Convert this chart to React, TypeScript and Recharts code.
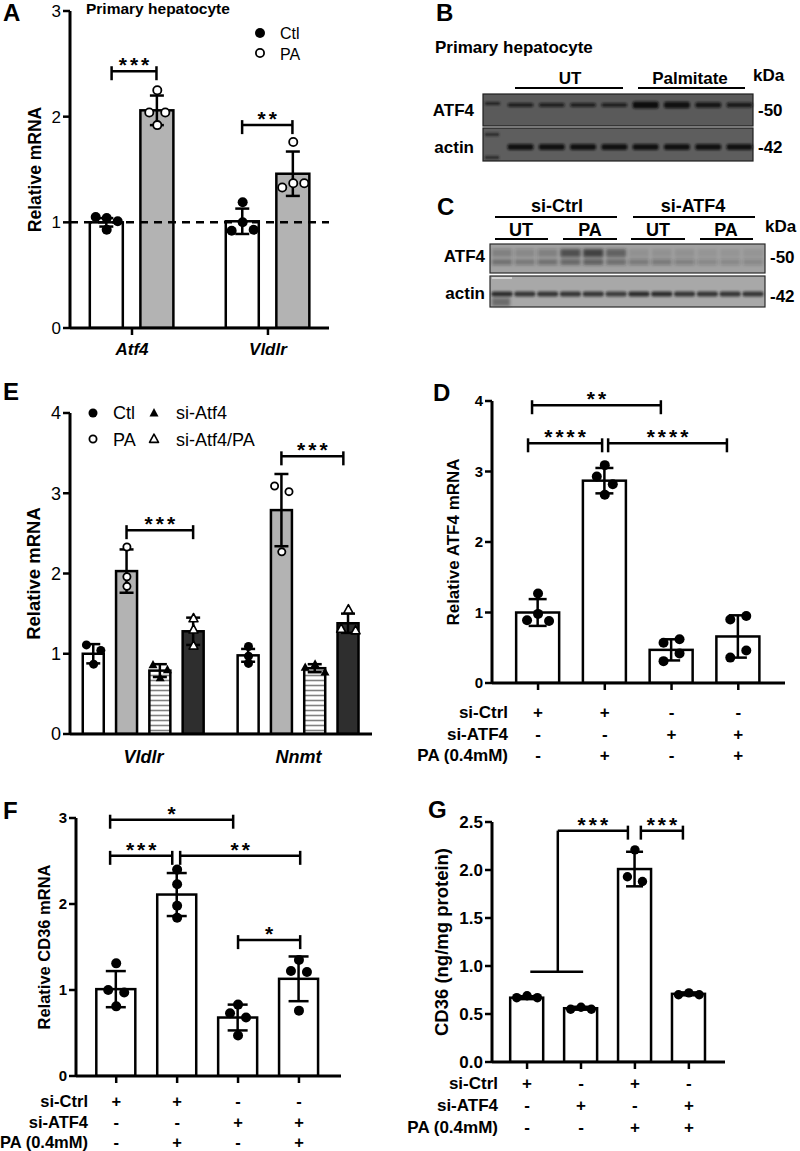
import React from 'react';
import { ComposedChart, Bar, Scatter, XAxis, YAxis, ErrorBar, ReferenceLine } from 'recharts';

const FONT = '"Liberation Sans", Arial, Helvetica, sans-serif';

// ---------------- Panel A ----------------
const A_GENES = ['Atf4', 'Vldlr'];
const A_CTL_MEAN = [1.0, 1.01];
const A_CTL_SD = [0.04, 0.12];
const A_CTL_PTS = [[1.04, 1.05, 1.01, 0.93], [1.19, 1.0, 0.92, 0.93]];
const A_PA_MEAN = [2.06, 1.46];
const A_PA_SD = [0.14, 0.21];
const A_PA_PTS = [[2.25, 2.04, 2.04, 1.92], [1.76, 1.37, 1.33, 1.37]];
const A_Y_TICKS = [0, 1, 2, 3];
const A_SIG = [
  { x1: -0.15, x2: 0.18, y: 2.43, label: '***' },
  { x1: 0.81, x2: 1.18, y: 1.92, label: '**' },
];

// ---------------- Panel E ----------------
const E_GENES = ['Vldlr', 'Nnmt'];
const E_CTL_MEAN = [1.0, 0.98];
const E_CTL_SD = [0.12, 0.08];
const E_CTL_PTS = [[1.11, 1.04, 0.87], [1.09, 0.97, 0.88]];
const E_PA_MEAN = [2.03, 2.79];
const E_PA_SD = [0.27, 0.45];
const E_PA_PTS = [[2.33, 1.96, 1.84], [3.09, 3.02, 2.27]];
const E_SI_MEAN = [0.79, 0.82];
const E_SI_SD = [0.08, 0.05];
const E_SI_PTS = [[0.86, 0.8, 0.7], [0.87, 0.83, 0.77]];
const E_SIPA_MEAN = [1.28, 1.38];
const E_SIPA_SD = [0.17, 0.12];
const E_SIPA_PTS = [[1.44, 1.3, 1.1], [1.55, 1.31, 1.29]];
const E_Y_TICKS = [0, 1, 2, 3, 4];
const E_SIG = [
  { x1: -0.11, x2: 0.32, y: 2.54, label: '***' },
  { x1: 0.89, x2: 1.29, y: 3.46, label: '***' },
];

// ---------------- Panel D ----------------
const D_MEAN = [1.0, 2.87, 0.47, 0.66];
const D_SD = [0.19, 0.18, 0.15, 0.3];
const D_PTS = [[1.27, 0.98, 0.89, 0.88], [3.09, 2.93, 2.82, 2.67], [0.57, 0.62, 0.31, 0.42], [0.9, 0.95, 0.36, 0.46]];
const D_Y_TICKS = [0, 1, 2, 3, 4];
const D_SIG = [
  { x1: -0.09, x2: 1.84, y: 3.94, label: '**' },
  { x1: -0.15, x2: 0.96, y: 3.4, label: '****' },
  { x1: 1.05, x2: 2.83, y: 3.4, label: '****' },
];
const D_ROWS = [
  { label: 'si-Ctrl', signs: ['+', '+', '-', '-'] },
  { label: 'si-ATF4', signs: ['-', '-', '+', '+'] },
  { label: 'PA (0.4mM)', signs: ['-', '+', '-', '+'] },
];

// ---------------- Panel F ----------------
const F_MEAN = [1.01, 2.11, 0.68, 1.13];
const F_SD = [0.21, 0.25, 0.15, 0.26];
const F_PTS = [[1.31, 1.0, 0.97, 0.81], [2.4, 2.23, 1.98, 1.84], [0.83, 0.73, 0.68, 0.47], [1.35, 1.22, 1.21, 0.76]];
const F_Y_TICKS = [0, 1, 2, 3];
const F_SIG = [
  { x1: -0.1, x2: 1.92, y: 2.98, label: '*' },
  { x1: -0.1, x2: 0.92, y: 2.56, label: '***' },
  { x1: 1.05, x2: 3.02, y: 2.56, label: '**' },
  { x1: 2.0, x2: 3.02, y: 1.58, label: '*' },
];
const F_ROWS = [
  { label: 'si-Ctrl', signs: ['+', '+', '-', '-'] },
  { label: 'si-ATF4', signs: ['-', '-', '+', '+'] },
  { label: 'PA (0.4mM)', signs: ['-', '+', '-', '+'] },
];

// ---------------- Panel G ----------------
const G_MEAN = [0.67, 0.56, 2.01, 0.71];
const G_SD = [0.015, 0.015, 0.18, 0.015];
const G_PTS = [[0.69, 0.67, 0.67], [0.57, 0.55, 0.55], [2.21, 1.93, 1.88], [0.72, 0.7, 0.7]];
const G_Y_TICKS = [0, 0.5, 1, 1.5, 2, 2.5];
const G_SIG = [
  { x1: 0.06, x2: 1.04, y: 0.94, ticks: 'none' },
  { x1: 0.57, x2: 0.57, y: 0.94, y2: 2.41, ticks: 'none' },
  { x1: 0.57, x2: 1.87, y: 2.41, label: '***', ticks: 'right' },
  { x1: 2.11, x2: 2.89, y: 2.41, label: '***' },
];
const G_ROWS = [
  { label: 'si-Ctrl', signs: ['+', '-', '+', '-'] },
  { label: 'si-ATF4', signs: ['-', '+', '-', '+'] },
  { label: 'PA (0.4mM)', signs: ['-', '-', '+', '+'] },
];

// ---------------- Blots (relative band intensities per lane) ----------------
const B_ATF4 = [0.8, 0.8, 0.8, 0.8, 1, 0.95, 0.9, 0.85];
const B_ACTIN = [0.95, 0.95, 0.95, 0.95, 0.95, 0.95, 0.95, 0.95];
const C_ATF4_UPPER = [0.25, 0.2, 0.25, 0.65, 0.75, 0.5, 0.1, 0.1, 0.1, 0.08, 0.08, 0.08];
const C_ATF4_LOWER = [0.35, 0.3, 0.35, 0.45, 0.5, 0.4, 0.3, 0.3, 0.25, 0.2, 0.2, 0.2];
const C_ACTIN = [0.85, 0.8, 0.8, 0.8, 0.8, 0.75, 0.85, 0.85, 0.8, 0.8, 0.8, 0.8];

type MarkerKind = 'dot' | 'ring' | 'tri' | 'otri';

function MarkerShape({ cx, cy, kind, r }: { cx: number; cy: number; kind: MarkerKind; r: number }) {
  if (cx == null || cy == null) return <g />;
  if (kind === 'dot') return <circle cx={cx} cy={cy} r={r} fill="#000" />;
  if (kind === 'ring') return <circle cx={cx} cy={cy} r={r - 0.9} fill="#fff" stroke="#000" strokeWidth={1.8} />;
  const pts = `${cx},${cy - r * 1.1} ${cx - r},${cy + r * 0.75} ${cx + r},${cy + r * 0.75}`;
  if (kind === 'tri') return <polygon points={pts} fill="#000" />;
  return <polygon points={pts} fill="#fff" stroke="#000" strokeWidth={1.6} strokeLinejoin="round" />;
}

function dodge(vals: number[], pxY: number, pxX: number, d: number): number[] {
  const idx = vals.map((_, i) => i).sort((a, b) => vals[b] - vals[a]);
  const clusters: number[][] = [];
  let cur: number[] = [];
  idx.forEach((i, k) => {
    if (k > 0 && (vals[idx[k - 1]] - vals[i]) * pxY >= d * 0.8) {
      clusters.push(cur);
      cur = [];
    }
    cur.push(i);
  });
  if (cur.length) clusters.push(cur);
  const off = vals.map(() => 0);
  const PAT: Record<number, number[]> = { 1: [0], 2: [-0.8, 0.8], 3: [0, -1.1, 1.1], 4: [-1.4, -0.47, 0.47, 1.4] };
  clusters.forEach((cl) => {
    const members = [...cl].sort((a, b) => a - b);
    const pat = PAT[members.length] || members.map((_, j) => j - (members.length - 1) / 2);
    members.forEach((m, j) => {
      off[m] = (pat[j] * d) / pxX;
    });
  });
  return off;
}

interface SeriesIn { mean: number[]; sd: number[]; pts: number[][]; fill: string; marker: MarkerKind }

function build(series: SeriesIn[], spacing: number, pxX: number, pxY: number, d: number) {
  const bars: { x: number; mean: number; sd: number; fill: string }[] = [];
  const pts = series.map((s) => ({ marker: s.marker, data: [] as { x: number; y: number }[] }));
  const n = series[0].mean.length;
  for (let g = 0; g < n; g++) {
    series.forEach((s, si) => {
      const x = g + (si - (series.length - 1) / 2) * spacing;
      bars.push({ x, mean: s.mean[g], sd: s.sd[g], fill: s.fill });
      const off = dodge(s.pts[g], pxY, pxX, d);
      s.pts[g].forEach((v, k) => pts[si].data.push({ x: x + off[k], y: v }));
    });
  }
  return { bars, pts };
}

function BracketShape(p: any) {
  const { x1, y1, x2, y2, sig } = p;
  const t = sig.ticks || 'both';
  const ls = 3;
  const st = { stroke: '#000', strokeWidth: 2.5 };
  return (
    <g>
      <line x1={x1} y1={y1} x2={x2} y2={y2} {...st} />
      {t === 'both' && <line x1={x1} y1={y1 - 5} x2={x1} y2={y1 + 9} {...st} />}
      {(t === 'both' || t === 'right') && <line x1={x2} y1={y2 - 5} x2={x2} y2={y2 + 9} {...st} />}
      {sig.label && (
        <text x={(x1 + x2) / 2 + ls / 2} y={y1 + 1} textAnchor="middle" fontSize={21} fontWeight={700}
          fontFamily={FONT} letterSpacing={ls} fill="#000">{sig.label}</text>
      )}
    </g>
  );
}

interface PanelCfg {
  lay: { left: number; top: number; right: number; bottom: number; yw: number; mt: number; mr: number; xh: number };
  xDomain: [number, number];
  yMax: number;
  yTicks: number[];
  yFmt?: (v: number) => string;
  yTickFont: number;
  yTickBold: boolean;
  yLabel: string;
  yLabelSize: number;
  yLabelOff: number;
  series: SeriesIn[];
  spacing: number;
  barSize: number;
  cap: number;
  r: number;
  sigs: any[];
  xTicks: number[];
  xFmt: (v: number) => string;
  xTickLine: boolean;
  xTickSize: number;
  xTickMargin: number;
  xFont: number;
  xItalic: boolean;
  rows?: { label: string; signs: string[] }[];
  rowStart?: number;
  rowH?: number;
  rowLabelDx?: number;
  rowFont?: number;
  refY?: number;
  defs?: React.ReactNode;
}

function Panel({ c }: { c: PanelCfg }) {
  const L = c.lay;
  const pw = L.right - L.left;
  const ph = L.bottom - L.top;
  const pxX = pw / (c.xDomain[1] - c.xDomain[0]);
  const pxY = ph / c.yMax;
  const { bars, pts } = build(c.series, c.spacing, pxX, pxY, c.r * 2);
  const rows = c.rows || [];
  const rowH = c.rowH || 0;
  const rowFont = c.rowFont || 17;
  const rowStart = c.rowStart || 0;
  const W = pw + L.yw + L.mr;
  const H = L.mt + ph + L.xh;
  const base = { fill: '#000', fontFamily: FONT };
  const ylx = L.yw - c.yLabelOff;
  const yly = L.mt + ph / 2;
  const axisY = L.mt + ph;
  const rowTick = (p: any) => (
    <g>
      {rows.map((r, i) => (
        <text key={i} x={p.x} y={axisY + rowStart + i * rowH} textAnchor="middle" fontSize={rowFont}
          fontWeight={700} fontFamily={FONT} fill="#000">{r.signs[Math.round(p.payload.value)] ?? ''}</text>
      ))}
    </g>
  );
  const barShape = (p: any) => {
    const cx = p.x + p.width / 2;
    const fill = (p.payload && p.payload.fill) || '#fff';
    return <rect x={cx - c.barSize / 2} y={p.y} width={c.barSize} height={Math.max(0, p.height)} fill={fill} stroke="#000" strokeWidth={2.5} />;
  };
  return (
    <div style={{ position: 'absolute', left: L.left - L.yw, top: L.top - L.mt, width: W, height: H }}>
      <ComposedChart width={W} height={H} data={bars} margin={{ top: L.mt, right: L.mr, left: 0, bottom: 0 }}>
        {c.defs}
        <XAxis dataKey="x" type="number" domain={c.xDomain} allowDataOverflow ticks={c.xTicks} interval={0}
          height={L.xh} tickFormatter={c.xFmt}
          axisLine={{ stroke: '#000', strokeWidth: 3 }}
          tickLine={c.xTickLine ? { stroke: '#000', strokeWidth: 2.5 } : false}
          tickSize={c.xTickSize} tickMargin={c.xTickMargin}
          tick={rows.length ? rowTick : { ...base, fontSize: c.xFont, fontWeight: 700, fontStyle: c.xItalic ? 'italic' : 'normal' }} />
        <YAxis type="number" domain={[0, c.yMax]} allowDataOverflow ticks={c.yTicks} interval={0} width={L.yw}
          tickFormatter={c.yFmt}
          axisLine={{ stroke: '#000', strokeWidth: 3 }} tickLine={{ stroke: '#000', strokeWidth: 2.5 }}
          tickSize={7} tickMargin={2}
          tick={{ ...base, fontSize: c.yTickFont, fontWeight: c.yTickBold ? 700 : 400 }} />
        <Bar dataKey="mean" barSize={c.barSize} isAnimationActive={false} shape={barShape}>
          <ErrorBar dataKey="sd" width={c.cap} stroke="#000" strokeWidth={2.5} direction="y" />
        </Bar>
        {c.refY !== undefined && (
          <ReferenceLine y={c.refY} stroke="#000" strokeWidth={2.5} strokeDasharray="8 6" />
        )}
        {pts.map((s, i) => (
          <Scatter key={'sc' + i} data={s.data} dataKey="y" isAnimationActive={false}
            shape={(p: any) => <MarkerShape cx={p.cx} cy={p.cy} kind={s.marker} r={c.r} />} />
        ))}
        {c.sigs.map((s, i) => (
          <ReferenceLine key={'sig' + i} ifOverflow="visible"
            segment={[{ x: s.x1, y: s.y }, { x: s.x2, y: s.y2 ?? s.y }]}
            shape={(p: any) => <BracketShape {...p} sig={s} />} />
        ))}
        <text x={ylx} y={yly} transform={`rotate(-90 ${ylx} ${yly})`} textAnchor="middle" dominantBaseline="central"
          fontSize={c.yLabelSize} fontWeight={700} fontFamily={FONT} fill="#000">{c.yLabel}</text>
        {rows.map((r, i) => (
          <text key={'rl' + i} x={L.yw + (c.rowLabelDx || 0)} y={axisY + rowStart + i * rowH}
            textAnchor="end" fontSize={rowFont} fontWeight={700} fontFamily={FONT} fill="#000">{r.label}</text>
        ))}
      </ComposedChart>
    </div>
  );
}

const blank = () => '';

const PANEL_A: PanelCfg = {
  lay: { left: 70, top: 11, right: 329, bottom: 328, yw: 60, mt: 10, mr: 10, xh: 40 },
  xDomain: [-0.456, 1.449], yMax: 3, yTicks: A_Y_TICKS, yTickFont: 17, yTickBold: false,
  yLabel: 'Relative mRNA', yLabelSize: 17.5, yLabelOff: 35,
  series: [
    { mean: A_CTL_MEAN, sd: A_CTL_SD, pts: A_CTL_PTS, fill: '#ffffff', marker: 'dot' },
    { mean: A_PA_MEAN, sd: A_PA_SD, pts: A_PA_PTS, fill: '#b3b3b3', marker: 'ring' },
  ],
  spacing: 0.372, barSize: 33, cap: 7, r: 5, sigs: A_SIG,
  xTicks: [0, 1], xFmt: (v) => A_GENES[Math.round(v)] ?? '', xTickLine: true, xTickSize: 7, xTickMargin: 8,
  xFont: 17, xItalic: true, refY: 1,
};

const PANEL_E: PanelCfg = {
  lay: { left: 70, top: 413, right: 372, bottom: 734, yw: 60, mt: 10, mr: 10, xh: 40 },
  xDomain: [-0.475, 1.475], yMax: 4, yTicks: E_Y_TICKS, yTickFont: 18, yTickBold: false,
  yLabel: 'Relative mRNA', yLabelSize: 18.5, yLabelOff: 37,
  series: [
    { mean: E_CTL_MEAN, sd: E_CTL_SD, pts: E_CTL_PTS, fill: '#ffffff', marker: 'dot' },
    { mean: E_PA_MEAN, sd: E_PA_SD, pts: E_PA_PTS, fill: '#b3b3b3', marker: 'ring' },
    { mean: E_SI_MEAN, sd: E_SI_SD, pts: E_SI_PTS, fill: 'url(#hatchE)', marker: 'tri' },
    { mean: E_SIPA_MEAN, sd: E_SIPA_SD, pts: E_SIPA_PTS, fill: '#2e2e2e', marker: 'otri' },
  ],
  spacing: 0.215, barSize: 21, cap: 7, r: 4.5, sigs: E_SIG,
  xTicks: [0, 1], xFmt: (v) => E_GENES[Math.round(v)] ?? '', xTickLine: false, xTickSize: 0, xTickMargin: 16,
  xFont: 18, xItalic: true,
  defs: (
    <defs>
      <pattern id="hatchE" patternUnits="userSpaceOnUse" width="6" height="5">
        <rect width="6" height="5" fill="#ffffff" />
        <line x1="0" y1="2.5" x2="6" y2="2.5" stroke="#808080" strokeWidth="1.6" />
      </pattern>
    </defs>
  ),
};

const PANEL_D: PanelCfg = {
  lay: { left: 492, top: 401, right: 785, bottom: 683, yw: 85, mt: 30, mr: 10, xh: 86 },
  xDomain: [-0.69, 3.7], yMax: 4, yTicks: D_Y_TICKS, yTickFont: 15, yTickBold: true,
  yLabel: 'Relative ATF4 mRNA', yLabelSize: 17, yLabelOff: 39,
  series: [{ mean: D_MEAN, sd: D_SD, pts: D_PTS, fill: '#ffffff', marker: 'dot' }],
  spacing: 0, barSize: 43, cap: 9, r: 5, sigs: D_SIG,
  xTicks: [0, 1, 2, 3], xFmt: blank, xTickLine: true, xTickSize: 7, xTickMargin: 0, xFont: 12, xItalic: false,
  rows: D_ROWS, rowStart: 35, rowH: 21.5, rowLabelDx: 16, rowFont: 17,
};

const PANEL_F: PanelCfg = {
  lay: { left: 76, top: 818, right: 341, bottom: 1076, yw: 80, mt: 30, mr: 10, xh: 76 },
  xDomain: [-0.66, 3.69], yMax: 3, yTicks: F_Y_TICKS, yTickFont: 15, yTickBold: true,
  yLabel: 'Relative CD36 mRNA', yLabelSize: 16.5, yLabelOff: 32,
  series: [{ mean: F_MEAN, sd: F_SD, pts: F_PTS, fill: '#ffffff', marker: 'dot' }],
  spacing: 0, barSize: 39, cap: 10, r: 5, sigs: F_SIG,
  xTicks: [0, 1, 2, 3], xFmt: blank, xTickLine: true, xTickSize: 7, xTickMargin: 0, xFont: 12, xItalic: false,
  rows: F_ROWS, rowStart: 31, rowH: 20.5, rowLabelDx: 12, rowFont: 16.5,
};

const PANEL_G: PanelCfg = {
  lay: { left: 492, top: 822, right: 725, bottom: 1062, yw: 92, mt: 30, mr: 10, xh: 80 },
  xDomain: [-0.65, 3.67], yMax: 2.5, yTicks: G_Y_TICKS, yFmt: (v) => v.toFixed(1), yTickFont: 17, yTickBold: true,
  yLabel: 'CD36 (ng/mg protein)', yLabelSize: 18.5, yLabelOff: 51,
  series: [{ mean: G_MEAN, sd: G_SD, pts: G_PTS, fill: '#ffffff', marker: 'dot' }],
  spacing: 0, barSize: 33, cap: 8.5, r: 4.7, sigs: G_SIG,
  xTicks: [0, 1, 2, 3], xFmt: blank, xTickLine: true, xTickSize: 7, xTickMargin: 0, xFont: 12, xItalic: false,
  rows: G_ROWS, rowStart: 27, rowH: 22, rowLabelDx: 6, rowFont: 17,
};

function Txt({ x, y, children, size = 17, weight = 700, anchor = 'start' }: any) {
  return (
    <text x={x} y={y} fontSize={size} fontWeight={weight} textAnchor={anchor} dominantBaseline="central"
      fontFamily={FONT} fill="#000">{children}</text>
  );
}

function lanes(n: number, first: number, last: number) {
  return Array.from({ length: n }, (_, i) => first + ((last - first) * i) / (n - 1));
}

function Overlay() {
  const bl = lanes(8, 520.5, 739.5);
  const cl = lanes(12, 502, 753);
  const ln = { stroke: '#000', strokeWidth: 2.2 };
  return (
    <svg width={800} height={1151} style={{ position: 'absolute', left: 0, top: 0, pointerEvents: 'none' }}>
      <defs>
        <filter id="bl1" x="-20%" y="-50%" width="140%" height="200%"><feGaussianBlur stdDeviation="0.9" /></filter>
        <filter id="bl2" x="-20%" y="-80%" width="140%" height="260%"><feGaussianBlur stdDeviation="1.8" /></filter>
      </defs>
      <Txt x={3} y={12} size={24}>A</Txt>
      <Txt x={436} y={12} size={24}>B</Txt>
      <Txt x={437} y={206} size={24}>C</Txt>
      <Txt x={433} y={392} size={24}>D</Txt>
      <Txt x={3} y={391} size={24}>E</Txt>
      <Txt x={3} y={810} size={24}>F</Txt>
      <Txt x={428} y={809} size={24}>G</Txt>

      <Txt x={86} y={8} size={15.5}>Primary hepatocyte</Txt>
      <MarkerShape cx={260} cy={33} kind="dot" r={5} />
      <Txt x={280} y={33} size={16} weight={400}>Ctl</Txt>
      <MarkerShape cx={260} cy={53} kind="ring" r={5} />
      <Txt x={280} y={54} size={16} weight={400}>PA</Txt>

      <MarkerShape cx={93} cy={413} kind="dot" r={4.5} />
      <Txt x={113} y={413} size={18} weight={400}>Ctl</Txt>
      <MarkerShape cx={93} cy={439} kind="ring" r={4.5} />
      <Txt x={113} y={440} size={18} weight={400}>PA</Txt>
      <MarkerShape cx={154} cy={413} kind="tri" r={4.5} />
      <Txt x={176} y={413} size={18} weight={400}>si-Atf4</Txt>
      <MarkerShape cx={154} cy={439} kind="otri" r={4.5} />
      <Txt x={176} y={440} size={18} weight={400}>si-Atf4/PA</Txt>

      <Txt x={435} y={47} size={17}>Primary hepatocyte</Txt>
      <Txt x={570} y={78} anchor="middle">UT</Txt>
      <Txt x={690} y={78} anchor="middle">Palmitate</Txt>
      <Txt x={753} y={75}>kDa</Txt>
      <line x1={515} y1={88} x2={623} y2={88} {...ln} />
      <line x1={638} y1={88} x2={745} y2={88} {...ln} />
      <Txt x={474} y={110} anchor="end">ATF4</Txt>
      <Txt x={474} y={147} anchor="end">actin</Txt>
      <Txt x={758} y={110}>-50</Txt>
      <Txt x={758} y={147}>-42</Txt>
      <rect x={483} y={94} width={270} height={32} fill="#5a5a5a" stroke="#1e1e1e" strokeWidth={1.2} />
      <rect x={483} y={128} width={270} height={33} fill="#5e5e5e" stroke="#1e1e1e" strokeWidth={1.2} />
      <g filter="url(#bl1)">
        <rect x={485} y={102} width={15} height={3} fill="#222" />
        <rect x={485} y={133} width={14} height={3} fill="#2a2a2a" />
        <rect x={485} y={156} width={14} height={3} fill="#2a2a2a" />
        {bl.map((x, i) => (
          <rect key={'ba' + i} x={x - 13} y={105 - 2 - (B_ATF4[i] - 0.8) * 8} width={26}
            height={4 + (B_ATF4[i] - 0.8) * 16} rx={2} fill="#111" opacity={B_ATF4[i]} />
        ))}
        {bl.map((x, i) => (
          <rect key={'bb' + i} x={x - 13} y={144} width={26} height={6} rx={2} fill="#111" opacity={B_ACTIN[i]} />
        ))}
      </g>

      <Txt x={557} y={206} size={18} anchor="middle">si-Ctrl</Txt>
      <Txt x={693} y={206} size={18} anchor="middle">si-ATF4</Txt>
      <line x1={495} y1={217} x2={617} y2={217} {...ln} />
      <line x1={633} y1={217} x2={755} y2={217} {...ln} />
      <Txt x={521} y={230} size={18} anchor="middle">UT</Txt>
      <Txt x={590} y={230} size={18} anchor="middle">PA</Txt>
      <Txt x={658} y={230} size={18} anchor="middle">UT</Txt>
      <Txt x={726} y={230} size={18} anchor="middle">PA</Txt>
      <line x1={495} y1={239} x2={548} y2={239} {...ln} />
      <line x1={563} y1={239} x2={617} y2={239} {...ln} />
      <line x1={631} y1={239} x2={685} y2={239} {...ln} />
      <line x1={700} y1={239} x2={753} y2={239} {...ln} />
      <Txt x={765} y={226}>kDa</Txt>
      <Txt x={485} y={256} anchor="end">ATF4</Txt>
      <Txt x={485} y={293} anchor="end">actin</Txt>
      <Txt x={770} y={257}>-50</Txt>
      <Txt x={770} y={296}>-42</Txt>
      <rect x={490} y={244} width={275} height={29} fill="#a2a2a2" stroke="#2a2a2a" strokeWidth={1.2} />
      <rect x={490} y={276} width={275} height={31} fill="#a8a8a8" stroke="#2a2a2a" strokeWidth={1.2} />
      <g filter="url(#bl2)">
        {cl.map((x, i) => (
          <rect key={'cu' + i} x={x - 10} y={249} width={20} height={8} fill="#222" opacity={C_ATF4_UPPER[i]} />
        ))}
        {cl.map((x, i) => (
          <rect key={'cl' + i} x={x - 10} y={259} width={20} height={6} fill="#222" opacity={C_ATF4_LOWER[i]} />
        ))}
        <rect x={492} y={298} width={18} height={8} fill="#444" opacity={0.6} />
      </g>
      <g filter="url(#bl1)">
        {cl.map((x, i) => (
          <rect key={'cb' + i} x={x - 10.5} y={291.5} width={21} height={5} rx={2} fill="#1a1a1a" opacity={C_ACTIN[i]} />
        ))}
      </g>
      <line x1={492} y1={278} x2={512} y2={278} stroke="#eee" strokeWidth={1.2} />
    </svg>
  );
}

export default function App() {
  return (
    <div style={{ position: 'absolute', left: 0, top: 0, width: 800, height: 1151, overflow: 'hidden', background: '#fff' }}>
      <Panel c={PANEL_A} />
      <Panel c={PANEL_E} />
      <Panel c={PANEL_D} />
      <Panel c={PANEL_F} />
      <Panel c={PANEL_G} />
      <Overlay />
    </div>
  );
}
